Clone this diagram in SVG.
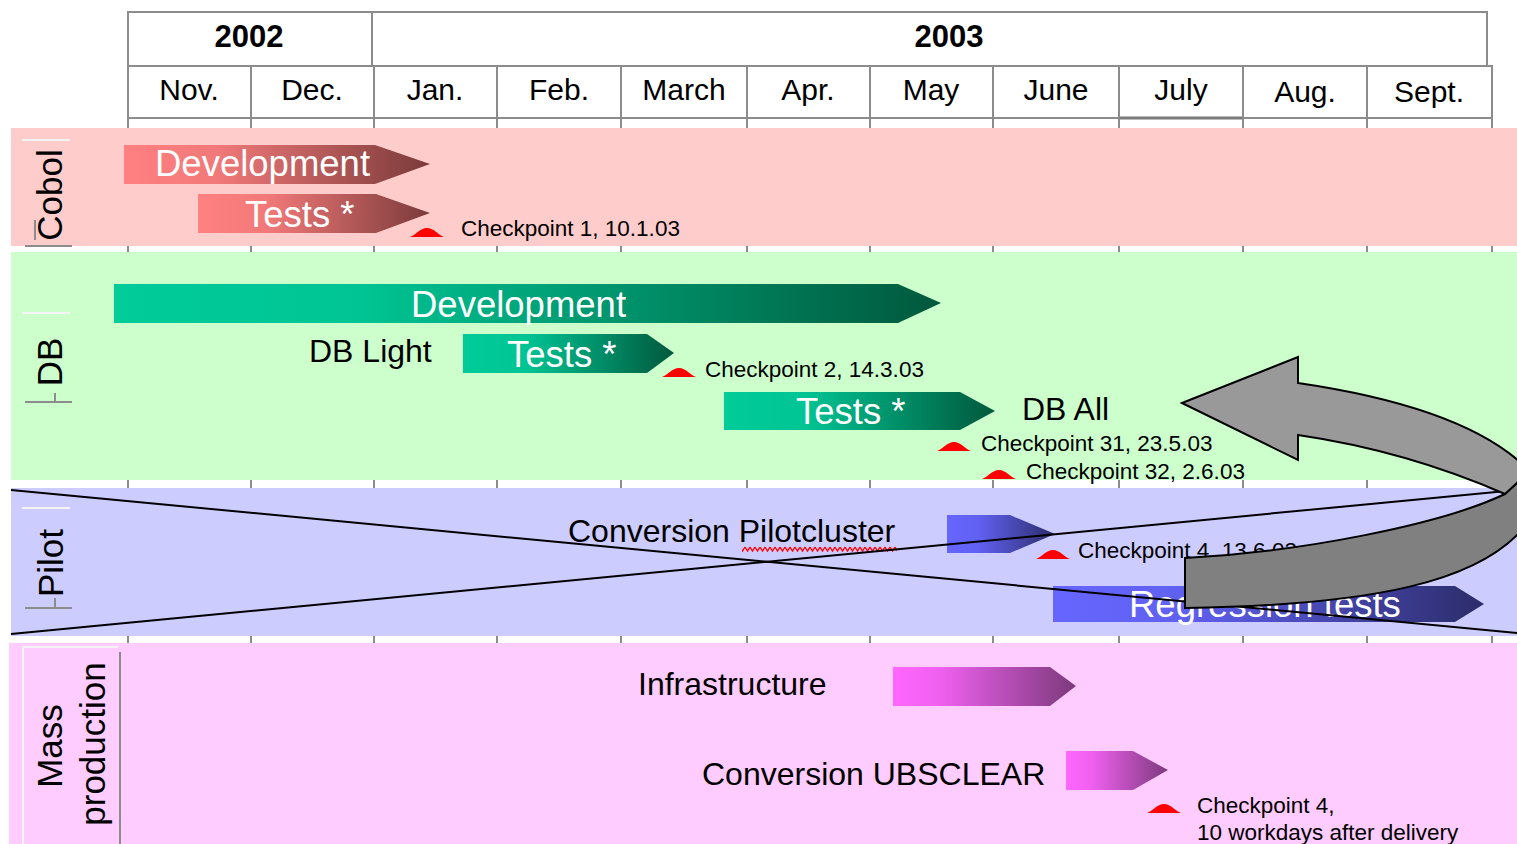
<svg xmlns="http://www.w3.org/2000/svg" width="1517" height="844" viewBox="0 0 1517 844">
  <style>
    text { font-family: "Liberation Sans", Arial, sans-serif; fill: #000; }
    .yr { font-size: 31px; font-weight: bold; text-anchor: middle; }
    .mon { font-size: 30px; text-anchor: middle; }
    .lane { font-size: 35px; text-anchor: middle; }
    .lbl { font-size: 32px; }
    .bar { font-size: 36.5px; fill: #fff; }
    .cp { font-size: 22.5px; }
    .grid { stroke: #8c8c8c; stroke-width: 2; fill: none; }
    .hi { stroke: #f4f4f4; stroke-width: 2; }
    .lo { stroke: #8c8c8c; stroke-width: 2; }
    .cross { stroke: #000; stroke-width: 2; fill: none; }
    .curve { stroke: #000; stroke-width: 2; stroke-linejoin: miter; }
  </style>
  <defs>
    <linearGradient id="gCobol" x1="0" y1="0" x2="1" y2="0">
      <stop offset="0" stop-color="#ff8080"/>
      <stop offset="0.3" stop-color="#f27979"/>
      <stop offset="1" stop-color="#7a3a3a"/>
    </linearGradient>
    <linearGradient id="gDB" x1="0" y1="0" x2="1" y2="0">
      <stop offset="0" stop-color="#00cc99"/>
      <stop offset="0.3" stop-color="#00c493"/>
      <stop offset="1" stop-color="#00583c"/>
    </linearGradient>
    <linearGradient id="gPilot" x1="0" y1="0" x2="1" y2="0">
      <stop offset="0" stop-color="#6666ff"/>
      <stop offset="0.3" stop-color="#6060f0"/>
      <stop offset="1" stop-color="#2c2c6a"/>
    </linearGradient>
    <linearGradient id="gMass" x1="0" y1="0" x2="1" y2="0">
      <stop offset="0" stop-color="#ff66ff"/>
      <stop offset="0.25" stop-color="#f060f0"/>
      <stop offset="1" stop-color="#7c3a7c"/>
    </linearGradient>
    <path id="ms" d="M0,11 C6,9 10,2 17,2 C24,2 28,9 34,11 Z" fill="#ff0000"/>
    <pattern id="wave" width="5" height="6" patternUnits="userSpaceOnUse">
      <path d="M0,1 L2.5,5 L5,1" stroke="#ff0000" stroke-width="1.4" fill="none"/>
    </pattern>
  </defs>

  <rect width="1517" height="844" fill="#fff"/>

  <!-- Timeline header -->
  <g id="header">
    <rect class="grid" x="128" y="12" width="1359" height="54"/>
    <line class="grid" x1="372" y1="12" x2="372" y2="66"/>
    <rect class="grid" x="128" y="66" width="1364" height="52"/>
    <line x1="1119" y1="118" x2="1243" y2="118" stroke="#7a7a7a" stroke-width="3"/>
    <g class="grid">
      <line x1="128" y1="66" x2="128" y2="844"/>
      <line x1="251" y1="66" x2="251" y2="844"/>
      <line x1="374" y1="66" x2="374" y2="844"/>
      <line x1="497" y1="66" x2="497" y2="844"/>
      <line x1="621" y1="66" x2="621" y2="844"/>
      <line x1="747" y1="66" x2="747" y2="844"/>
      <line x1="870" y1="66" x2="870" y2="844"/>
      <line x1="993" y1="66" x2="993" y2="844"/>
      <line x1="1119" y1="66" x2="1119" y2="844"/>
      <line x1="1243" y1="66" x2="1243" y2="844"/>
      <line x1="1367" y1="66" x2="1367" y2="844"/>
      <line x1="1492" y1="66" x2="1492" y2="844"/>
    </g>
    <text class="yr" x="249" y="47">2002</text>
    <text class="yr" x="949" y="47">2003</text>
    <text class="mon" x="189" y="100">Nov.</text>
    <text class="mon" x="312" y="100">Dec.</text>
    <text class="mon" x="435" y="100">Jan.</text>
    <text class="mon" x="559" y="100">Feb.</text>
    <text class="mon" x="684" y="100">March</text>
    <text class="mon" x="808" y="100">Apr.</text>
    <text class="mon" x="931" y="100">May</text>
    <text class="mon" x="1056" y="100">June</text>
    <text class="mon" x="1181" y="100">July</text>
    <text class="mon" x="1305" y="102">Aug.</text>
    <text class="mon" x="1429" y="102">Sept.</text>
  </g>

  <!-- Swimlane backgrounds -->
  <g id="lanes">
    <rect x="11" y="128" width="1506" height="118" fill="#ffcccc"/>
    <rect x="11" y="252" width="1506" height="228" fill="#ccffcc"/>
    <rect x="11" y="488" width="1506" height="148" fill="#ccccff"/>
    <rect x="9" y="643" width="1508" height="201" fill="#ffccff"/>
  </g>

  <!-- Lane titles -->
  <g id="lane-cobol">
    <line class="hi" x1="22" y1="140" x2="70" y2="140"/>
    <line class="lo" x1="25" y1="246" x2="72" y2="246"/>
    <line class="lo" x1="35" y1="220" x2="35" y2="240"/>
    <text class="lane" transform="translate(62,195) rotate(-90)">Cobol</text>
  </g>
  <g id="lane-db">
    <line class="hi" x1="22" y1="313" x2="70" y2="313"/>
    <line class="lo" x1="25" y1="402" x2="72" y2="402"/>
    <line class="lo" x1="55" y1="393" x2="55" y2="402"/>
    <text class="lane" transform="translate(62,362) rotate(-90)">DB</text>
  </g>
  <g id="lane-pilot">
    <line class="hi" x1="22" y1="508" x2="70" y2="508"/>
    <line class="lo" x1="25" y1="608" x2="72" y2="608"/>
    <line class="lo" x1="55" y1="598" x2="55" y2="608"/>
    <text class="lane" transform="translate(63,563) rotate(-90)">Pilot</text>
  </g>
  <g id="lane-mass">
    <line class="hi" x1="23" y1="647" x2="118" y2="647"/>
    <line class="hi" x1="23" y1="647" x2="23" y2="844"/>
    <line class="lo" x1="120" y1="652" x2="120" y2="844"/>
    <text class="lane" transform="translate(62,746) rotate(-90)">Mass</text>
    <text class="lane" transform="translate(105,744) rotate(-90)">production</text>
  </g>

  <!-- Cobol tasks -->
  <g id="cobol-development">
    <polygon points="124,145 375,145 430,164 375,184 124,184" fill="url(#gCobol)"/>
    <text class="bar" x="155" y="176">Development</text>
  </g>
  <g id="cobol-tests">
    <polygon points="198,194 376,194 430,213 376,233 198,233" fill="url(#gCobol)"/>
    <text class="bar" x="245" y="227">Tests *</text>
  </g>
  <g id="checkpoint-1">
    <use href="#ms" x="410" y="226"/>
    <text class="cp" x="461" y="236">Checkpoint 1, 10.1.03</text>
  </g>

  <!-- DB tasks -->
  <g id="db-development">
    <polygon points="114,284 898,284 941,303 898,323 114,323" fill="url(#gDB)"/>
    <text class="bar" x="411" y="317">Development</text>
  </g>
  <g id="db-light-tests">
    <text class="lbl" x="309" y="362">DB Light</text>
    <polygon points="463,334 647,334 674,353 647,373 463,373" fill="url(#gDB)"/>
    <text class="bar" x="507" y="367">Tests *</text>
  </g>
  <g id="checkpoint-2">
    <use href="#ms" x="662" y="366"/>
    <text class="cp" x="705" y="377">Checkpoint 2, 14.3.03</text>
  </g>
  <g id="db-all-tests">
    <polygon points="724,392 960,392 995,411 960,430 724,430" fill="url(#gDB)"/>
    <text class="bar" x="796" y="424">Tests *</text>
    <text class="lbl" x="1022" y="420">DB All</text>
  </g>
  <g id="checkpoint-31">
    <use href="#ms" x="937" y="440"/>
    <text class="cp" x="981" y="451">Checkpoint 31, 23.5.03</text>
  </g>
  <g id="checkpoint-32">
    <use href="#ms" x="982" y="468"/>
    <text class="cp" x="1026" y="479">Checkpoint 32, 2.6.03</text>
  </g>

  <!-- Pilot tasks -->
  <g id="pilot-conversion">
    <text class="lbl" x="568" y="542">Conversion Pilotcluster</text>
    <rect x="742" y="546" width="155" height="6" fill="url(#wave)"/>
    <polygon points="947,515 1010,515 1055,534 1010,553 947,553" fill="url(#gPilot)"/>
  </g>
  <g id="checkpoint-4-pilot">
    <use href="#ms" x="1036" y="548"/>
    <text class="cp" x="1078" y="558">Checkpoint 4, 13.6.03</text>
  </g>
  <g id="regression-tests">
    <polygon points="1053,586 1455,586 1484,604 1455,622 1053,622" fill="url(#gPilot)"/>
    <text class="bar" x="1129" y="617">Regression tests</text>
  </g>

  <!-- Mass production tasks -->
  <g id="infrastructure">
    <text class="lbl" x="638" y="695">Infrastructure</text>
    <polygon points="893,667 1050,667 1076,686 1050,706 893,706" fill="url(#gMass)"/>
  </g>
  <g id="conversion-ubsclear">
    <text class="lbl" x="702" y="785">Conversion UBSCLEAR</text>
    <polygon points="1066,751 1133,751 1168,770 1133,790 1066,790" fill="url(#gMass)"/>
  </g>
  <g id="checkpoint-4-mass">
    <use href="#ms" x="1147" y="802"/>
    <text class="cp" x="1197" y="813">Checkpoint 4,</text>
    <text class="cp" x="1197" y="840">10 workdays after delivery</text>
  </g>

  <!-- Crossing lines over the pilot lane -->
  <g id="connectors">
    <line class="cross" x1="11" y1="490" x2="1517" y2="633"/>
    <line class="cross" x1="11" y1="634" x2="1517" y2="490"/>
  </g>

  <!-- Curved return arrow -->
  <g id="return-arrow">
    <path class="curve" fill="#808080" d="M1185,558 C1300,552 1440,525 1505,494 L1520,480 L1520,532 C1475,580 1380,605 1185,608 Z"/>
    <path class="curve" fill="#999999" d="M1182,403 L1298,357 L1298,383 C1380,395 1470,418 1520,462 L1520,480 L1505,494 C1450,470 1380,447 1298,435 L1298,460 Z"/>
  </g>
</svg>
